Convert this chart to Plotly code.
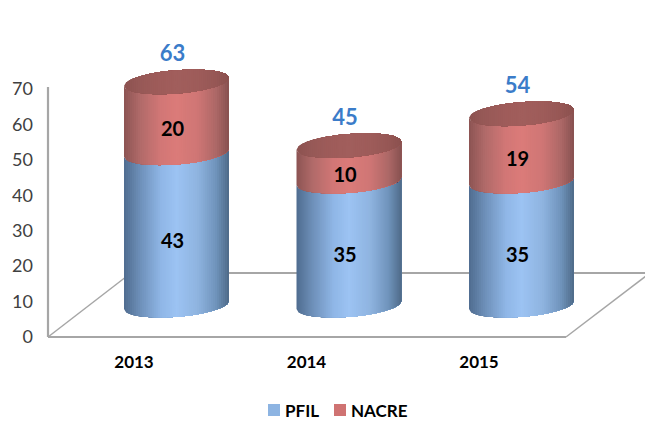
import numpy as np
import plotly.graph_objects as go

# ---- data ----
years = ["2013", "2014", "2015"]
pfil = [43, 35, 35]
nacre = [20, 10, 19]
totals = [63, 45, 54]
y_ticks = [0, 10, 20, 30, 40, 50, 60, 70]
series_names = ["PFIL", "NACRE"]

# ---- styles ----
W, H = 645, 423
M_L, M_B = 34, 80
PX_X = 172.5            # px per category
PX_Y = 3.543            # px per value unit
X0_PX, Y0_PX = 176.5, 337
FONT = "Lato"
BASE = 9.0              # 3-D floor offset of cylinder bases, in value units
HALF_W = 52.5 / PX_X
TILT = 4.0 / PX_Y
MINOR = 11.7 / PX_Y
DEPTH = 42.5 / PX_X
N = 53

STOPS = [-1, -0.7, -0.3, 0, 0.4, 0.75, 1]
BLUE = ["#4f6c8f", "#6d8fb8", "#8fb6e6", "#9cc3f3", "#8fb4e0", "#7094bc", "#4f6a88"]
RED = ["#8c5453", "#b06a69", "#d27776", "#db7b79", "#cf7675", "#ad6867", "#875150"]
TOP = ["#8c5250", "#975957", "#9f5c5a", "#a15e5c", "#9e5c5a", "#965755", "#8a514f"]
LEGEND_COLOURS = ["#8db4e2", "#cf7372"]


def hexrgb(h):
    return np.array([int(h[i:i + 2], 16) for i in (1, 3, 5)], float)


def colour(stops, u):
    a = np.array([hexrgb(c) for c in stops])
    r = [np.interp(u, STOPS, a[:, k]) for k in range(3)]
    return "rgb(%d,%d,%d)" % tuple(round(v) for v in r)


def front(u):
    return TILT * u - MINOR * np.sqrt(np.clip(1 - u * u, 0, 1))


def back(u):
    return TILT * u + MINOR * np.sqrt(np.clip(1 - u * u, 0, 1))


edges = np.linspace(-1, 1, N + 1)
fig = go.Figure()


def add_slices(lows, highs, stops, low_curve, high_curve):
    """Paint left to right: every shade covers from its left edge to the cylinder's right side."""
    for k in range(N):
        us = edges[k:]
        c = colour(stops, (edges[k] + edges[k + 1]) / 2)
        xs, ys = [], []
        for i in range(len(years)):
            lo, hi = lows[i], highs[i]
            xs += list(i + us * HALF_W) + list(i + us[::-1] * HALF_W) + [None]
            ys += list(lo + low_curve(us)) + list(hi + high_curve(us[::-1])) + [None]
        fig.add_trace(go.Scatter(x=xs, y=ys, mode="none", fill="toself", fillcolor=c,
                                 hoverinfo="skip", showlegend=False))


base = [BASE] * len(years)
mid = [BASE + v for v in pfil]
top = [BASE + a + b for a, b in zip(pfil, nacre)]
add_slices(base, mid, BLUE, front, front)
add_slices(mid, top, RED, front, front)
add_slices(top, top, TOP, front, back)

xs = list(range(len(years)))
LABEL_DX = -4 / PX_X
fig.add_trace(go.Scatter(x=[i + LABEL_DX for i in xs], y=[BASE + v / 2 - 3.9 for v in pfil], mode="text",
                         text=[str(v) for v in pfil], showlegend=False, hoverinfo="skip",
                         textfont=dict(family=FONT, size=20, color="#000000", weight="bold")))
fig.add_trace(go.Scatter(x=[i + LABEL_DX for i in xs], y=[BASE + a + b / 2 - 3.9 for a, b in zip(pfil, nacre)],
                         mode="text", text=[str(v) for v in nacre], showlegend=False, hoverinfo="skip",
                         textfont=dict(family=FONT, size=20, color="#000000", weight="bold")))
fig.add_trace(go.Scatter(x=[i + LABEL_DX for i in xs], y=[BASE + v + 7.4 for v in totals], mode="text",
                         text=[str(v) for v in totals], showlegend=False, hoverinfo="skip",
                         textfont=dict(family=FONT, size=22, color="#3b7cc9", weight="bold")))


def dx(px):
    return (px - X0_PX) / PX_X


def dy(px):
    return (Y0_PX - px) / PX_Y


GREY = "#a6a6a6"
segments = [((48, 87), (48, 337), 2.2), ((48, 337), (566, 337), 2.2), ((48, 337), (131, 273), 1.5),
            ((131, 273), (650, 273), 1.8), ((566, 337), (650, 273), 1.5)]
shapes = [dict(type="line", layer="below", xref="x", yref="y", x0=dx(a[0]), y0=dy(a[1]), x1=dx(b[0]), y1=dy(b[1]),
               line=dict(color=GREY, width=w)) for a, b, w in segments]

# legend key: squares and names below the plot, placed in page pixels
annotations = []
for name, col, sq_left, text_left in zip(series_names, LEGEND_COLOURS, [268, 334], [285, 351]):
    shapes.append(dict(type="rect", xref="paper", yref="paper",
                       x0=(sq_left - M_L) / (W - M_L), x1=(sq_left + 12 - M_L) / (W - M_L),
                       y0=(H - M_B - 416) / (H - M_B), y1=(H - M_B - 404) / (H - M_B),
                       fillcolor=col, line=dict(width=0)))
    annotations.append(dict(text=name, xref="paper", yref="paper", showarrow=False,
                            x=(text_left - M_L) / (W - M_L), xanchor="left",
                            y=(H - M_B - 410) / (H - M_B), yanchor="middle",
                            xshift=-2,
                            font=dict(family=FONT, size=17, color="#000000", weight="bold")))

fig.update_layout(
    width=W, height=H, autosize=False,
    margin=dict(l=M_L, r=0, t=0, b=M_B, pad=0),
    paper_bgcolor="white", plot_bgcolor="white",
    shapes=shapes, annotations=annotations,
    font=dict(family=FONT),
    showlegend=False,
    xaxis=dict(range=[dx(M_L), dx(W)], tickmode="array", tickvals=[i - DEPTH for i in xs], ticktext=years,
               showgrid=False, zeroline=False, showline=False, ticks="", ticklabelstandoff=7,
               tickfont=dict(family=FONT, size=17, color="#000000", weight="bold"), fixedrange=True),
    yaxis=dict(range=[dy(H - M_B), dy(0)], tickmode="array", tickvals=y_ticks,
               ticktext=[str(v) for v in y_ticks],
               showgrid=False, zeroline=False, showline=False, ticks="", ticklabelstandoff=0,
               tickfont=dict(family=FONT, size=18, color="#404040"), fixedrange=True),
)

fig.write_html("out.html", post_script="document.body.style.margin='0';document.body.style.overflow='hidden';",
               config=dict(displayModeBar=False))
